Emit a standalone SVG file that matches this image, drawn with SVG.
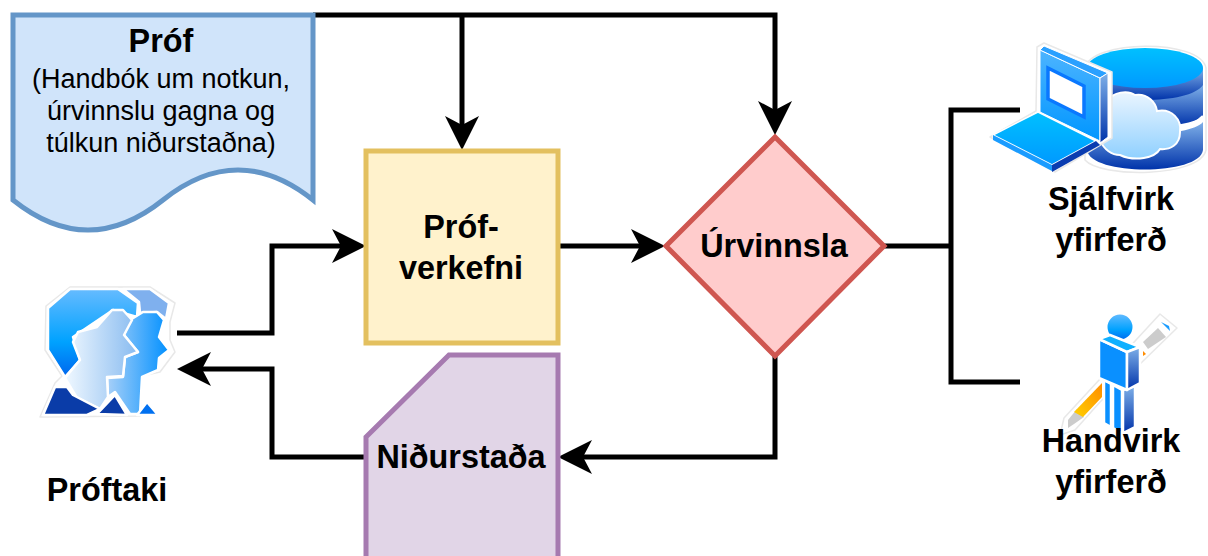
<svg xmlns="http://www.w3.org/2000/svg" width="1208" height="556" viewBox="0 0 1208 556">
<style>
text{font-family:"Liberation Sans",Arial,sans-serif;text-anchor:middle;fill:#000}
.b{font-weight:bold;font-size:32.4px}
.r{font-size:27px}
.shape{stroke-width:5}
.c{fill:none;stroke:#000;stroke-width:5}
.i{stroke:#fff;stroke-width:2.5;stroke-linejoin:round}
.halo{fill:#fff;stroke:#e8e8e8;stroke-width:1.5;stroke-linejoin:round}
</style>
<defs>
<marker id="arrow" markerUnits="userSpaceOnUse" markerWidth="36" markerHeight="36" refX="24" refY="17" orient="auto"><path d="M34,17 L0,0 L9,17 L0,34 Z" fill="#000"/></marker>
<linearGradient id="v" x1="0" y1="0" x2="0" y2="1"><stop offset="0" stop-color="#66bbff"/><stop offset=".6" stop-color="#00a2ff"/><stop offset="1" stop-color="#0066ee"/></linearGradient>
<linearGradient id="cy" x1="0" y1="0" x2="0" y2="1"><stop offset="0" stop-color="#00c0ff"/><stop offset="1" stop-color="#0099ff"/></linearGradient>
<linearGradient id="dk" x1="0" y1="0" x2="0" y2="1"><stop offset="0" stop-color="#7fb0e8"/><stop offset="1" stop-color="#0033aa"/></linearGradient>
<linearGradient id="pale" x1="0" y1="0" x2="1" y2="0"><stop offset="0" stop-color="#f0f8ff"/><stop offset="1" stop-color="#88bbf0"/></linearGradient>
<linearGradient id="face" x1="0" y1="0" x2="1" y2="0"><stop offset="0" stop-color="#a8d0f8"/><stop offset="1" stop-color="#0090ff"/></linearGradient>
<linearGradient id="cloud" x1="0" y1="0" x2="0" y2="1"><stop offset="0" stop-color="#eaf5ff"/><stop offset="1" stop-color="#8fd0ff"/></linearGradient>
<linearGradient id="or" x1="0" y1="1" x2="1" y2="0"><stop offset="0" stop-color="#ffd000"/><stop offset="1" stop-color="#ff8c00"/></linearGradient>
<linearGradient id="scr" x1="0" y1="0" x2="0" y2="1"><stop offset="0" stop-color="#4db4ff"/><stop offset="1" stop-color="#0096ff"/></linearGradient>
</defs>

<g id="connectors">
<path class="c" d="M313,15 H775 V125" marker-end="url(#arrow)"/>
<path class="c" d="M462,15 V140" marker-end="url(#arrow)"/>
<path class="c" d="M177,333 H272 V246 H356" marker-end="url(#arrow)"/>
<path class="c" d="M558,246 H655" marker-end="url(#arrow)"/>
<path class="c" d="M775,356 V457 H568" marker-end="url(#arrow)"/>
<path class="c" d="M366,457 H272 V369 H187" marker-end="url(#arrow)"/>
<path class="c" d="M884,246 H951 M1020,110 H951 V382 H1020"/>
</g>

<g id="prof">
<path class="shape" d="M13,15 H313 V200 Q238,140 163,200 Q88,260 13,200 Z" fill="#d0e4fa" stroke="#6496c8"/>
<text class="b" x="161" y="52">Próf</text>
<text class="r" x="161" y="88">(Handbók um notkun,</text>
<text class="r" x="161" y="120">úrvinnslu gagna og</text>
<text class="r" x="161" y="152">túlkun niðurstaðna)</text>
</g>

<g id="verkefni">
<rect class="shape" x="366" y="151" width="192" height="192" fill="#fff2cc" stroke="#e3c05f"/>
<text class="b" x="461" y="238">Próf-</text>
<text class="b" x="461" y="279">verkefni</text>
</g>

<g id="urvinnsla">
<polygon class="shape" points="775,137 884,246 775,356 666,246" fill="#ffcccc" stroke="#cf5650"/>
<text class="b" x="774" y="257">Úrvinnsla</text>
</g>

<g id="nidurstada">
<path class="shape" d="M366,562 V437 L449,355 H558 V562" fill="#e1d5e7" stroke="#a67ab0"/>
<text class="b" x="461" y="468">Niðurstaða</text>
</g>

<g id="proftaki">
<polygon class="halo" points="46,306 70,287 120,287 150,287 175,303 170,322 170,340 175,352 160,372 142,376 140,416 40,417 55,383 62,376 45,350"/>
<polygon class="i" fill="url(#v)" points="48,308 70,289 118,289 138,303 137,317 113,310 73,337 80,360 65,377 48,350"/>
<polygon class="i" fill="#7fb0ee" points="123,289 150,289 169,303 166,319 157,312 140,313 139,302"/>
<polygon class="i" fill="url(#face)" points="130,320 143,312 157,312 164,320 159,337 169,350 159,358 158,370 142,377 140,414 130,414 115,392 108,397 107,378 123,377 125,357 138,352 124,335"/>
<polygon class="i" fill="url(#pale)" points="112,310 123,310 132,320 124,335 138,352 125,357 123,376 107,377 108,397 100,409 77,398 65,378 80,360 73,342 78,332 97,327"/>
<polygon class="i" fill="#0a3ca8" points="55,387 67,387 73,395 100,409 87,415 43,415"/>
<polygon class="i" fill="#0a3ca8" points="97,414 115,395 127,415"/>
<polygon class="i" fill="#0070f0" points="137,415 147,402 158,415"/>
<text class="b" x="107" y="501">Próftaki</text>
</g>

<g id="sjalfvirk">
<path class="halo" d="M1085,68 C1090,40 1200,38 1206,68 V150 C1200,178 1100,178 1085,160 Z"/>
<path fill="url(#dk)" d="M1087,68 V100 H1203 V68 Z"/>
<path fill="url(#dk)" d="M1087,85 C1100,105 1190,105 1203,85 V116 C1190,130 1100,130 1087,116 Z"/>
<path fill="url(#dk)" d="M1087,122 V150 C1090,176 1200,176 1203,150 V122 C1190,138 1100,138 1087,122 Z"/>
<ellipse cx="1145" cy="68" rx="58" ry="20" fill="url(#cy)"/>
<path d="M1087,120 C1110,140 1180,140 1203,116" fill="none" stroke="#fff" stroke-width="2.5"/>
<path fill="url(#cloud)" stroke="#fff" stroke-width="2" d="M1110,100 C1112,92 1128,90 1135,95 C1148,93 1156,103 1157,111 C1172,108 1182,120 1180,132 C1180,145 1170,150 1160,149 C1155,158 1135,162 1120,155 C1112,155 1104,150 1100,140 L1103,110 Z"/>
<polygon class="halo" points="1037,47 1044,43 1112,72 1112,138 1055,172 990,137 1036,111"/>
<polygon fill="url(#scr)" stroke="#fff" stroke-width="1" points="1040,50 1100,78 1100,141 1040,112"/>
<polygon fill="#fff" stroke="#0a78ff" stroke-width="3.5" points="1048,68 1084,86 1084,117 1048,99"/>
<polygon fill="#2aa0ff" stroke="#fff" stroke-width="1" points="1040,50 1044,46 1108,73 1100,78"/>
<polygon fill="url(#dk)" stroke="#fff" stroke-width="1" points="1100,78 1108,73 1108,137 1100,143"/>
<polygon fill="url(#cy)" stroke="#fff" stroke-width="1.5" points="993,135 1038,112 1096,141 1052,165"/>
<polygon fill="#1a9cff" points="993,135 1052,165 1052,171 993,140"/>
<polygon fill="#0a3cb0" points="1052,165 1096,141 1100,145 1052,172"/>
<text class="b" x="1111" y="210">Sjálfvirk</text>
<text class="b" x="1111" y="251">yfirferð</text>
</g>

<g id="handvirk">
<polygon class="halo" points="1060,435 1064,418 1160,314 1177,328 1140,364 1100,402 1075,430"/>
<polygon fill="#ccc" points="1068,420 1068,428 1074,424 1084,417 1077,409"/>
<polygon fill="url(#or)" points="1074,412 1102,383 1102,397 1083,417"/>
<polygon fill="#ccc" points="1143,342 1158,328 1166,337 1148,349"/>
<polygon fill="#1a9cff" points="1161,322 1169,326 1170,331"/>
<polygon fill="#ff8c00" points="1143,351 1146,354 1143,356"/>
<circle cx="1120" cy="327" r="13.5" fill="url(#v)" stroke="#fff" stroke-width="2"/>
<polygon class="i" fill="#0a90ff" points="1104,380 1111,384 1111,427 1104,423"/>
<polygon class="i" fill="#0a90ff" points="1113,385 1122,390 1122,433 1113,428"/>
<polygon class="i" fill="url(#dk)" points="1123,390 1135,386 1135,427 1123,433"/>
<polygon class="i" fill="#0a90ff" points="1099,339 1127,352 1127,390 1099,378"/>
<polygon class="i" fill="#10b0ff" points="1099,339 1110,335 1140,347 1127,352"/>
<polygon class="i" fill="url(#dk)" points="1127,352 1140,347 1140,383 1127,390"/>
<text class="b" x="1111" y="452">Handvirk</text>
<text class="b" x="1111" y="493">yfirferð</text>
</g>
</svg>
